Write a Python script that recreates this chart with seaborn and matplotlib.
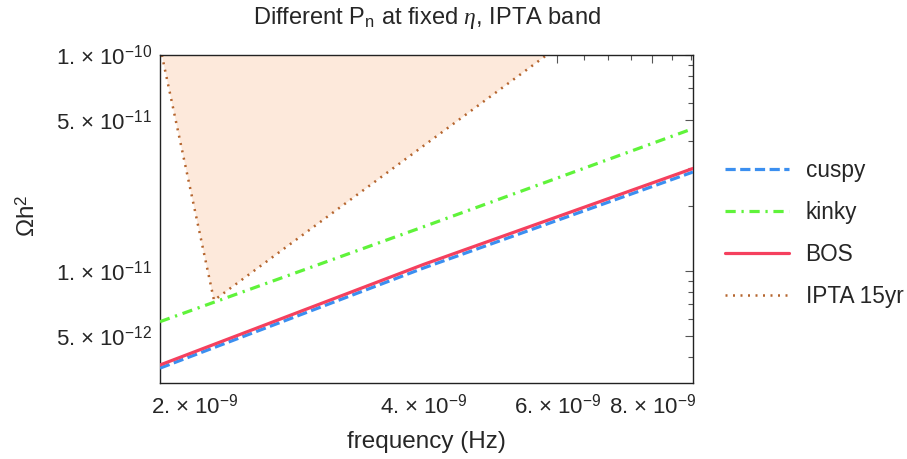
import numpy as np
import pandas as pd
import matplotlib
matplotlib.use("Agg")
import matplotlib.pyplot as plt
import seaborn as sns
from matplotlib.ticker import FixedLocator, FixedFormatter, NullFormatter

# datos (frecuencia en Hz, Omega h^2)
freq_ends = [1.8e-9, 4.0e-9, 9.05e-9]
omega_cuspy = [3.54e-12, 1.03e-11, 2.87e-11]
omega_kinky = [5.81e-12, 1.60e-11, 4.56e-11]
omega_bos = [3.66e-12, 1.07e-11, 2.98e-11]

# banda IPTA 15yr (borde izquierdo, vertice, borde derecho)
ipta_freq = [1.81e-9, 2.12e-9, 5.81e-9]
ipta_omega = [1.0e-10, 7.3e-12, 1.0e-10]

# ticks
xticks_major = [2e-9, 4e-9, 6e-9, 8e-9]
xtick_labels = [r"2.$\,\times\,$10$^{-9}$", r"4.$\,\times\,$10$^{-9}$",
                r"6.$\,\times\,$10$^{-9}$", r"8.$\,\times\,$10$^{-9}$"]
xticks_minor = [2.5e-9, 3e-9, 3.5e-9, 4.5e-9, 5e-9, 5.5e-9, 6.5e-9,
                7e-9, 7.5e-9, 8.5e-9, 9e-9]
yticks_major = [1e-10, 5e-11, 1e-11, 5e-12]
ytick_labels = [r"1.$\,\times\,$10$^{-10}$", r"5.$\,\times\,$10$^{-11}$",
                r"1.$\,\times\,$10$^{-11}$", r"5.$\,\times\,$10$^{-12}$"]
yticks_minor = [3e-12, 4e-12, 6e-12, 7e-12, 8e-12, 9e-12,
                2e-11, 3e-11, 4e-11, 6e-11, 7e-11, 8e-11, 9e-11]

sns.set_style("white")
plt.rcParams['font.family'] = ['Liberation Sans', 'DejaVu Sans']
plt.rcParams['mathtext.fontset'] = 'custom'
plt.rcParams['mathtext.rm'] = 'Liberation Sans'
plt.rcParams['mathtext.it'] = 'Liberation Serif:italic'
plt.rcParams['mathtext.bf'] = 'Liberation Sans:bold'

fig = plt.figure(figsize=(9.07, 4.59), dpi=100)
ax = fig.add_axes([160 / 907, 1 - 383 / 459, 533 / 907, 328 / 459])

# banda IPTA
ax.fill(ipta_freq, ipta_omega, color="#fde9db", lw=0, zorder=1)
df_ipta = pd.DataFrame({"f": ipta_freq, "omega": ipta_omega})
sns.lineplot(data=df_ipta, x="f", y="omega", sort=False, ax=ax,
             color="#b5652e", lw=1.8, linestyle=(0, (0.8, 2.2)),
             label="IPTA 15yr", zorder=2)

df_lines = pd.DataFrame({"f": freq_ends, "cuspy": omega_cuspy,
                         "kinky": omega_kinky, "BOS": omega_bos})
sns.lineplot(data=df_lines, x="f", y="kinky", ax=ax, color="#5ff33a",
             lw=2.3, linestyle=(0, (3.2, 1.8, 0.7, 1.8)), label="kinky", zorder=3)
sns.lineplot(data=df_lines, x="f", y="cuspy", ax=ax, color="#3b8ff0",
             lw=2.3, linestyle=(0, (3.2, 1.4)), label="cuspy", zorder=3)
sns.lineplot(data=df_lines, x="f", y="BOS", ax=ax, color="#f5405e",
             lw=2.3, label="BOS", zorder=4)

ax.set_xscale("log")
ax.set_yscale("log")
ax.set_xlim(1.8e-9, 9.05e-9)
ax.set_ylim(3.02e-12, 1e-10)

ax.xaxis.set_major_locator(FixedLocator(xticks_major))
ax.xaxis.set_major_formatter(FixedFormatter(xtick_labels))
ax.xaxis.set_minor_locator(FixedLocator(xticks_minor))
ax.xaxis.set_minor_formatter(NullFormatter())
ax.yaxis.set_major_locator(FixedLocator(yticks_major))
ax.yaxis.set_major_formatter(FixedFormatter(ytick_labels))
ax.yaxis.set_minor_locator(FixedLocator(yticks_minor))
ax.yaxis.set_minor_formatter(NullFormatter())

ax.tick_params(which="both", direction="in", top=True, right=True,
               color="#555555", width=0.8)
ax.tick_params(which="major", length=6, labelsize=16)
ax.tick_params(axis="x", which="major", pad=8)
ax.tick_params(axis="y", which="major", pad=6)
ax.tick_params(which="minor", length=3.5)
for s in ax.spines.values():
    s.set_color("#222222")
    s.set_linewidth(1.0)

ax.set_title(r"Different P$_\mathrm{n}$ at fixed $\eta$, IPTA band",
             fontsize=17, pad=22)
ax.set_xlabel("frequency (Hz)", fontsize=17.5)
ax.set_ylabel("Ωh$^{2}$", fontsize=17.5)
ax.xaxis.set_label_coords(0.5, -0.145)
ax.yaxis.set_label_coords(-0.226, 0.51)

handles, labels = ax.get_legend_handles_labels()
order = [labels.index(n) for n in ["cuspy", "kinky", "BOS", "IPTA 15yr"]]
ax.legend([handles[i] for i in order], [labels[i] for i in order],
          loc="upper left", bbox_to_anchor=(1.021, 0.744), frameon=False,
          fontsize=16.3, handlelength=2.83, handletextpad=0.75,
          labelspacing=0.84)

fig.savefig("out.png", dpi=100)
